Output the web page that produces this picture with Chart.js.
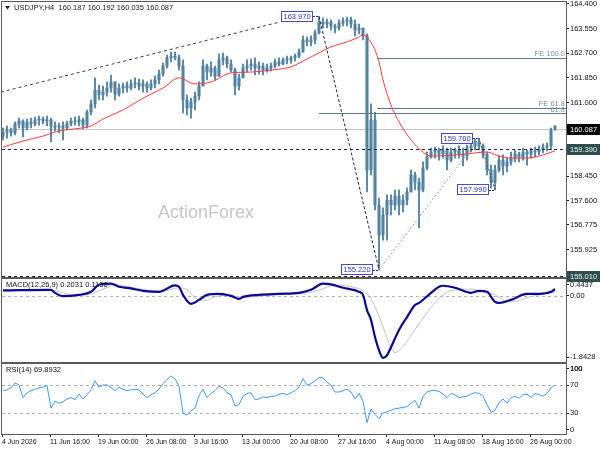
<!DOCTYPE html>
<html>
<head>
<meta charset="utf-8">
<script src="https://cdn.jsdelivr.net/npm/chart.js@4.4.1/dist/chart.umd.min.js"></script>
<style>
  html, body { margin: 0; padding: 0; background: #fff; }
  #wrap { position: relative; width: 600px; height: 450px; overflow: hidden; }
  canvas { position: absolute; left: 0; }
</style>
</head>
<body>
<div id="wrap">
  <canvas id="macdChart" width="600" height="89" style="top:274px"></canvas>
  <canvas id="priceChart" width="600" height="284" style="top:0"></canvas>
  <canvas id="rsiChart" width="600" height="87" style="top:363px"></canvas>
</div>
<script>
// ---- data (USDJPY H4) ----
const opens = [
  159.84,159.98,160.05,159.95,160.26,160.36,160.12,160.33,160.26,160.40,
  160.43,160.36,160.40,160.19,160.15,160.19,160.12,160.26,160.36,160.33,
  160.40,160.22,160.67,160.95,161.43,161.26,161.36,161.50,161.71,161.29,
  161.50,161.57,161.50,161.64,161.67,161.57,161.64,161.50,161.64,161.78,
  161.98,162.26,162.54,162.60,162.54,162.26,161.09,160.81,161.02,161.22,
  161.57,162.26,162.05,162.19,161.91,162.47,162.54,162.33,162.12,161.57,
  161.85,162.19,162.26,162.33,162.19,162.26,162.12,162.19,162.26,162.40,
  162.33,162.47,162.47,162.54,162.60,162.74,163.16,163.09,163.16,163.40,
  163.78,163.71,163.78,163.64,163.57,163.74,163.81,163.85,163.71,163.50,
  163.57,163.30,158.67,160.40,157.46,156.43,157.12,157.63,157.46,157.77,
  157.46,157.63,157.91,158.50,158.25,157.98,158.74,159.12,159.29,159.36,
  159.22,159.36,159.01,159.29,159.36,159.22,159.15,159.43,159.50,159.64,
  159.50,159.22,158.67,158.25,158.67,159.01,158.81,158.95,159.08,159.22,
  159.12,159.29,159.22,159.33,159.29,159.39,159.46,159.50,160.187
];
const highs = [
  160.12,160.19,160.12,160.33,160.46,160.40,160.43,160.46,160.50,160.53,
  160.50,160.53,160.46,160.33,160.29,160.33,160.36,160.46,160.50,160.53,
  160.46,160.74,161.09,161.85,161.60,161.57,161.71,161.95,161.71,161.64,
  161.67,161.71,161.78,161.85,161.81,161.78,161.71,161.78,161.91,162.12,
  162.36,162.64,162.74,162.74,162.64,162.47,161.26,161.15,161.36,161.71,
  162.47,162.33,162.40,162.26,162.67,162.71,162.60,162.47,162.19,161.98,
  162.33,162.47,162.50,162.54,162.40,162.36,162.33,162.36,162.50,162.54,
  162.54,162.60,162.60,162.67,162.85,163.30,163.26,163.30,163.50,163.97,
  163.92,163.88,163.85,163.71,163.85,163.92,163.95,163.95,163.85,163.71,
  163.57,163.37,160.95,160.67,157.70,157.36,157.81,157.81,157.98,157.98,
  157.81,158.05,158.67,158.60,158.39,158.95,159.29,159.43,159.46,159.43,
  159.50,159.43,159.43,159.43,159.50,159.43,159.53,159.64,159.74,159.76,
  159.57,159.29,158.84,158.84,159.15,159.19,159.08,159.29,159.36,159.29,
  159.43,159.36,159.43,159.46,159.50,159.57,159.60,160.12,160.192
];
const lows = [
  159.71,159.77,159.84,159.88,160.12,159.81,160.05,160.12,160.19,160.22,
  160.26,160.19,159.64,160.02,159.95,159.71,160.05,160.19,160.22,160.19,
  160.09,160.12,160.57,160.81,161.09,161.09,161.22,161.36,161.09,161.22,
  161.33,161.36,161.43,161.50,161.43,161.36,161.36,161.43,161.50,161.64,
  161.91,162.19,162.40,162.47,162.12,160.64,160.57,160.46,160.74,161.09,
  161.57,161.78,161.91,161.78,161.91,162.30,162.19,162.05,161.26,161.43,
  161.85,162.05,162.12,161.95,161.98,161.95,162.05,162.09,162.19,162.26,
  162.30,162.33,162.36,162.43,162.54,162.74,162.95,162.95,163.02,163.37,
  163.57,163.57,163.50,163.40,163.50,163.64,163.64,163.57,163.30,163.37,
  163.16,157.91,158.50,157.29,155.22,156.25,156.25,157.12,157.29,157.12,
  157.22,157.46,157.91,157.98,156.67,157.91,158.67,159.08,159.08,159.01,
  159.08,158.67,158.95,159.08,159.08,158.81,159.01,159.29,159.36,159.36,
  159.08,158.50,158.05,157.99,158.60,158.50,158.60,158.84,158.95,158.95,
  159.01,158.84,159.08,159.12,159.19,159.26,159.33,159.36,160.035
];
const closes = [
  159.98,160.05,159.95,160.26,160.36,160.12,160.33,160.26,160.40,160.43,
  160.36,160.40,160.19,160.15,160.19,160.12,160.26,160.36,160.33,160.40,
  160.22,160.67,160.95,161.43,161.26,161.36,161.50,161.71,161.29,161.50,
  161.57,161.50,161.64,161.67,161.57,161.64,161.50,161.64,161.78,161.98,
  162.26,162.54,162.60,162.54,162.26,161.09,160.81,161.02,161.22,161.57,
  162.26,162.05,162.19,161.91,162.47,162.54,162.33,162.12,161.57,161.85,
  162.19,162.26,162.33,162.19,162.26,162.12,162.19,162.26,162.40,162.33,
  162.47,162.47,162.54,162.60,162.74,163.16,163.09,163.16,163.40,163.78,
  163.71,163.78,163.64,163.57,163.74,163.81,163.85,163.71,163.50,163.57,
  163.30,158.67,160.40,157.46,156.43,157.12,157.63,157.46,157.77,157.46,
  157.63,157.91,158.50,158.25,157.98,158.74,159.12,159.29,159.36,159.22,
  159.36,159.01,159.29,159.36,159.22,159.15,159.43,159.50,159.64,159.50,
  159.22,158.67,158.25,158.67,159.01,158.81,158.95,159.08,159.22,159.12,
  159.29,159.22,159.33,159.29,159.39,159.46,159.50,160.05,160.087
];

// moving average (red), sampled at bar indices
const maIdx  = [0,5,10,14,18,22,25,30,35,40,44,48,52,57,62,67,72,75,79,82,86,89,90,91,93,94,95,97,99,102,105,107,113,118,121,124,127,131,135,138];
const maVals = [159.46,159.67,159.84,160.02,160.09,160.19,160.43,160.74,161.15,161.50,
                161.85,161.64,161.71,162.02,162.05,162.12,162.23,162.43,162.71,162.92,
                163.09,163.26,163.33,163.26,162.81,162.40,161.78,160.91,160.33,159.71,
                159.29,159.15,159.19,159.26,159.29,159.15,159.08,159.08,159.19,159.33];

// MACD(12,26,9)
const macdIdx  = [0,12,13,15,19,22,24,27,29,32,35,39,43,44,45,47,49,51,54,57,59,60,64,69,74,77,80,82,85,89,
                  90,91,92,93,94,95,96,97,99,101,103,104,107,109,110,113,117,119,121,123,124,127,131,134,137,138];
const macdVals = [0.16,0.18,0.09,-0.01,0.03,0.12,0.33,0.36,0.27,0.22,0.15,0.12,0.31,0.27,0.03,-0.24,-0.12,0.03,0.06,0.00,
                  -0.09,-0.03,0.03,0.06,0.09,0.18,0.36,0.34,0.24,0.12,0.03,-0.42,-0.71,-1.22,-1.61,-1.84,-1.76,-1.52,-1.01,-0.63,
                  -0.27,-0.21,0.09,0.27,0.30,0.24,0.09,0.15,0.12,-0.18,-0.21,-0.12,0.06,0.06,0.12,0.2031];
const sigIdx  = [0,12,15,19,22,25,28,32,36,40,44,46,48,50,53,56,60,64,70,75,79,83,87,90,92,94,96,97,98,100,
                 103,106,109,112,117,120,123,125,128,131,135,138];
const sigVals = [0.14,0.18,0.09,0.01,0.06,0.20,0.32,0.26,0.17,0.14,0.24,0.18,-0.05,-0.15,-0.03,0.03,-0.04,-0.01,0.05,0.07,
                 0.17,0.32,0.27,0.15,-0.10,-0.60,-1.25,-1.55,-1.68,-1.50,-1.00,-0.50,-0.08,0.16,0.20,0.12,0.03,-0.12,-0.16,-0.05,
                 0.05,0.113];

// RSI(14), one value per bar
const rsiVals = [
  62,63,66,73,70,52,59,62,64,66, 67,69,37,47,44,46,50,52,49,57,
  50,56,63,76,67,70,70,66,62,67, 64,62,63,64,63,57,52,56,59,64,
  72,78,83,79,68,30,27,33,37,55, 64,52,58,62,68,66,59,56,40,42,
  54,58,59,49,50,53,52,54,54,57, 58,56,59,62,67,79,70,72,76,81,
  80,74,70,60,60,62,64,60,50,58, 47,16,36,28,22,30,32,34,36,37,
  38,39,44,48,37,54,60,62,62,61, 57,52,58,56,52,53,54,57,59,58,
  54,42,31,34,45,50,44,52,54,51, 56,57,52,58,56,54,58,66,69.8932
];

// axis labels (MT4 keeps the extreme labels just inside each panel)
const priceTicks = [155.925,156.775,157.6,158.45,159.3,160.15,161.0,161.85,162.7,163.55,164.4];
const macdTicks = [-1.8428, 0, 0.4437];
const macdTickText = ['-1.8428', '0.00', '0.4437'];
const macdLabelNudge = [0.03, 0, -0.11];
const rsiTicks = [0, 30, 70, 100];
const rsiLabelNudge = [6, 0, 0, -7];
const dateLabels = ['4 Jun 2026','11 Jun 16:00','19 Jun 00:00','26 Jun 08:00','3 Jul 16:00','13 Jul 00:00',
                    '20 Jul 08:00','27 Jul 16:00','4 Aug 00:00','11 Aug 08:00','18 Aug 16:00','26 Aug 00:00'];

// levels and drawn objects
const bidPrice = 160.087;
const dayOpen = 159.39;
const lowMark = 155.01;
const swingIdx  = [79, 94, 119, 123];
const swingVals = [163.97, 155.22, 159.76, 157.99];
const trendIdx  = [-0.5, 69.25];
const trendVals = [161.36, 163.78];
const fe100 = 162.54, fe618 = 160.80, ret618 = 160.63;

// ---- drawing ----
const FONT_FAMILY = '"Liberation Sans", Arial, sans-serif';
const font = s => s + 'px ' + FONT_FAMILY;
Chart.defaults.font.family = FONT_FAMILY;
const barColor = '#5283a2';
const xMin = -0.25, xMax = 140.75;

function seg(ctx, x0, y0, x1, y1, color, dash, w) {
  ctx.save();
  ctx.strokeStyle = color; ctx.lineWidth = w || 1; ctx.setLineDash(dash || []);
  ctx.beginPath(); ctx.moveTo(x0, y0); ctx.lineTo(x1, y1); ctx.stroke();
  ctx.restore();
}

function frame(chart) {
  const { ctx, chartArea: a } = chart;
  const l = Math.round(a.left) - 0.5, t = Math.round(a.top) - 0.5;
  const r = Math.round(a.right) + 0.5, b = Math.round(a.bottom) + 0.5;
  ctx.save();
  ctx.strokeStyle = '#5a5a5a'; ctx.lineWidth = 1;
  ctx.strokeRect(l, t, r - l, b - t);
  ctx.restore();
}

function swingTag(ctx, text, px, py) {
  ctx.save();
  ctx.font = font(7.5);
  const w = Math.round(ctx.measureText(text).width + 5);
  const xr = Math.round(px) - 6;
  const top = Math.round(py - 5.5);
  seg(ctx, xr, Math.round(py) + 0.5, px, Math.round(py) + 0.5, '#303060', [2, 1]);
  ctx.fillStyle = '#fff';
  ctx.fillRect(xr - w, top, w, 11);
  ctx.strokeStyle = '#4a4ac8'; ctx.lineWidth = 1;
  ctx.strokeRect(xr - w + 0.5, top + 0.5, w - 1, 10);
  ctx.fillStyle = '#3232a8'; ctx.textAlign = 'left'; ctx.textBaseline = 'middle';
  ctx.fillText(text, xr - w + 2.5, top + 6);
  ctx.restore();
}

function axisTag(ctx, chart, v, bg, fg, text) {
  const a = chart.chartArea;
  const yp = Math.round(chart.scales.y.getPixelForValue(v));
  ctx.save();
  ctx.fillStyle = bg;
  ctx.fillRect(Math.round(a.right) + 1, yp - 5, chart.width - Math.round(a.right) - 1, 11);
  ctx.fillStyle = fg; ctx.font = font(7.5);
  ctx.textAlign = 'left'; ctx.textBaseline = 'middle';
  ctx.fillText(text, Math.round(a.right) + 4, yp + 0.5);
  ctx.restore();
}

const priceOverlay = {
  id: 'priceOverlay',
  beforeDatasetsDraw(chart) {
    const { ctx, chartArea: a, scales: { x, y } } = chart;
    ctx.save();
    ctx.font = font(18); ctx.fillStyle = '#c6c6c6';
    ctx.textAlign = 'left'; ctx.textBaseline = 'middle';
    ctx.fillText('ActionForex', a.left + 156, 213);
    ctx.restore();
    const yb = Math.round(y.getPixelForValue(bidPrice)) + 0.5;
    seg(ctx, a.left, yb, a.right, yb, '#c4c4c4');
  },
  afterDatasetsDraw(chart) {
    const { ctx, chartArea: a, scales: { x, y } } = chart;
    const px = i => x.getPixelForValue(i);
    const py = v => y.getPixelForValue(v);
    const hy = v => Math.round(py(v)) + 0.5;

    seg(ctx, a.left, hy(dayOpen), a.right, hy(dayOpen), '#2a2a2a', [3, 3]);
    seg(ctx, a.left, hy(lowMark), a.right, hy(lowMark), '#2a2a2a', [3, 3]);

    // trend line over the highs
    seg(ctx, px(trendIdx[0]), py(trendVals[0]), px(trendIdx[1]), py(trendVals[1]), '#3c3c3c', [3, 3]);
    // retracement diagonal and level
    seg(ctx, px(swingIdx[0]), py(swingVals[0]), px(swingIdx[1]), py(swingVals[1]), '#2a2a2a', [3, 2]);
    seg(ctx, px(swingIdx[0]), hy(ret618), a.right, hy(ret618), '#5e7c86');
    // expansion legs and levels
    seg(ctx, px(swingIdx[1]), py(swingVals[1]), px(swingIdx[2]), py(swingVals[2]), '#9a9a9a', [2, 2]);
    seg(ctx, px(swingIdx[2]), py(swingVals[2]), px(swingIdx[3]), py(swingVals[3]), '#555555', [2, 2]);
    seg(ctx, px(swingIdx[1]) - 2, hy(fe100), a.right, hy(fe100), '#5e7c86');
    seg(ctx, px(swingIdx[1]) - 2, hy(fe618), a.right, hy(fe618), '#5e7c86');

    ctx.save();
    ctx.font = font(7.5); ctx.fillStyle = '#7191a6';
    ctx.textAlign = 'right'; ctx.textBaseline = 'bottom';
    ctx.fillText('FE 100.0', a.right - 1, hy(fe100) - 0.5);
    ctx.fillText('FE 61.8', a.right - 1, hy(fe618) - 0.5);
    ctx.fillText('61.8', a.right - 1, hy(ret618) + 0.5);
    ctx.restore();

    swingIdx.forEach((i, k) => swingTag(ctx, swingVals[k].toFixed(3), px(i), py(swingVals[k])));
  },
  afterDraw(chart) {
    const { ctx } = chart;
    frame(chart);
    // symbol header
    ctx.save();
    ctx.fillStyle = '#222';
    ctx.beginPath(); ctx.moveTo(5, 6); ctx.lineTo(10, 6); ctx.lineTo(7.5, 9.5); ctx.closePath(); ctx.fill();
    ctx.font = font(7.5); ctx.textAlign = 'left'; ctx.textBaseline = 'middle';
    ctx.fillText('USDJPY,H4  ' + [opens, highs, lows, closes].map(a => a[a.length - 1].toFixed(3)).join(' '), 14, 8);
    ctx.restore();
    axisTag(ctx, chart, dayOpen, '#2f4f4f', '#f0f0f0', dayOpen.toFixed(3));
    axisTag(ctx, chart, lowMark, '#2f4f4f', '#f0f0f0', lowMark.toFixed(3));
    axisTag(ctx, chart, bidPrice, '#000000', '#ffffff', bidPrice.toFixed(3));
  }
};

const rightAxis = (extra) => Object.assign({
  position: 'right',
  afterFit(s) { s.width = 34; s.paddingTop = 0; s.paddingBottom = 0; },
  grid: { drawOnChartArea: false, tickLength: 3, color: '#222' },
  border: { display: false }
}, extra);

const hiddenX = { type: 'linear', min: xMin, max: xMax, offset: false, display: false };
const baseOpts = {
  animation: false, responsive: false, events: [],
  plugins: { legend: { display: false }, tooltip: { enabled: false } }
};

new Chart(document.getElementById('priceChart'), {
  type: 'bar',
  data: {
    datasets: [
      { type: 'line', data: maIdx.map((v, k) => ({ x: v, y: maVals[k] })), borderColor: '#ff3c3c',
        borderWidth: 1, pointRadius: 0, cubicInterpolationMode: 'monotone', order: 1 },
      { data: highs.map((h, i) => ({ x: i, y: [lows[i], h] })), backgroundColor: barColor,
        barThickness: 1.2, grouped: false, order: 2 },
      { data: opens.map((o, i) => ({ x: i, y: [Math.min(o, closes[i]), Math.max(o, closes[i])] })),
        backgroundColor: barColor, barThickness: 2.4, minBarLength: 1, grouped: false, order: 2 }
    ]
  },
  options: Object.assign({}, baseOpts, {
    layout: { padding: { left: 2, top: 2, right: 0, bottom: 7 } },
    scales: {
      x: hiddenX,
      y: rightAxis({
        min: 154.976, max: 164.469,
        afterBuildTicks(s) { s.ticks = priceTicks.map(v => ({ value: v })); },
        ticks: { autoSkip: false, color: '#111', font: { size: 7.5 }, padding: 1, callback: v => v.toFixed(3) }
      })
    }
  }),
  plugins: [priceOverlay]
});

const macdOverlay = {
  id: 'macdOverlay',
  beforeDatasetsDraw(chart) {
    const { ctx, chartArea: a, scales: { y } } = chart;
    const y0 = Math.round(y.getPixelForValue(0)) + 0.5;
    seg(ctx, a.left, y0, a.right, y0, '#b0b0b0', [3, 3]);
  },
  afterDraw(chart) {
    const { ctx, chartArea: a } = chart;
    frame(chart);
    ctx.save();
    ctx.font = font(7.5); ctx.fillStyle = '#111';
    ctx.textAlign = 'left'; ctx.textBaseline = 'middle';
    ctx.fillText('MACD(12,26,9) ' + macdVals[macdVals.length - 1].toFixed(4) + ' ' + sigVals[sigVals.length - 1].toFixed(4),
                 a.left + 4, a.top + 6);
    ctx.restore();
  }
};

new Chart(document.getElementById('macdChart'), {
  type: 'line',
  data: {
    datasets: [
      { data: macdIdx.map((v, k) => ({ x: v, y: macdVals[k] })), borderColor: '#0a0a96', borderWidth: 2.2,
        pointRadius: 0, cubicInterpolationMode: 'monotone', order: 1 },
      { data: sigIdx.map((v, k) => ({ x: v, y: sigVals[k] })), borderColor: '#c4c4c4', borderWidth: 1,
        pointRadius: 0, cubicInterpolationMode: 'monotone', order: 2 }
    ]
  },
  options: Object.assign({}, baseOpts, {
    layout: { padding: { left: 2, top: 5, right: 0, bottom: 1 } },
    scales: {
      x: hiddenX,
      y: rightAxis({
        min: -1.96, max: 0.50,
        afterBuildTicks(s) { s.ticks = macdTicks.map((v, k) => ({ value: v + macdLabelNudge[k] })); },
        ticks: { autoSkip: false, color: '#111', font: { size: 7.5 }, padding: 1, callback: (v, i) => macdTickText[i] }
      })
    }
  }),
  plugins: [macdOverlay]
});

const rsiOverlay = {
  id: 'rsiOverlay',
  beforeDatasetsDraw(chart) {
    const { ctx, chartArea: a, scales: { y } } = chart;
    [70, 30].forEach(v => {
      const yy = Math.round(y.getPixelForValue(v)) + 0.5;
      seg(ctx, a.left, yy, a.right, yy, '#b0b0b0', [3, 3]);
    });
  },
  afterDraw(chart) {
    const { ctx, chartArea: a, scales: { y } } = chart;
    frame(chart);
    ctx.save();
    ctx.font = font(7.5); ctx.fillStyle = '#111';
    ctx.textAlign = 'left'; ctx.textBaseline = 'middle';
    ctx.fillText('RSI(14) ' + rsiVals[rsiVals.length - 1].toFixed(4), a.left + 4, a.top + 6);
    // the top scale label does not come through in this layout, so write it at its tick
    const topTick = y.ticks[y.ticks.length - 1];
    ctx.fillText(String(rsiTicks[rsiTicks.length - 1]), Math.round(a.right) + 4, y.getPixelForValue(topTick.value));
    ctx.restore();
  }
};

new Chart(document.getElementById('rsiChart'), {
  type: 'line',
  data: {
    datasets: [
      { data: rsiVals.map((v, i) => ({ x: i, y: v })), borderColor: '#3d9bff', borderWidth: 1,
        pointRadius: 0, tension: 0 }
    ]
  },
  options: Object.assign({}, baseOpts, {
    layout: { padding: { left: 2, top: 1, right: 0, bottom: 0 } },
    scales: {
      x: {
        type: 'linear', min: xMin, max: xMax, offset: false,
        afterBuildTicks(s) { s.ticks = dateLabels.map((_, k) => ({ value: k * 12 - 0.25 })); },
        afterFit(s) { s.height = 16; s.paddingLeft = 0; s.paddingRight = 0; },
        ticks: { autoSkip: false, maxRotation: 0, align: 'start', color: '#111', font: { size: 7 }, padding: 1,
                 callback: (v, i) => dateLabels[i] },
        grid: { drawOnChartArea: false, tickLength: 3, color: '#222' },
        border: { display: false }
      },
      y: rightAxis({
        min: 0, max: 100,
        afterBuildTicks(s) { s.ticks = rsiTicks.map((v, k) => ({ value: v + rsiLabelNudge[k] })); },
        ticks: { autoSkip: false, color: '#111', font: { size: 7.5 }, padding: 1, callback: (v, i) => String(rsiTicks[i]) }
      })
    }
  }),
  plugins: [rsiOverlay]
});
</script>
</body>
</html>
